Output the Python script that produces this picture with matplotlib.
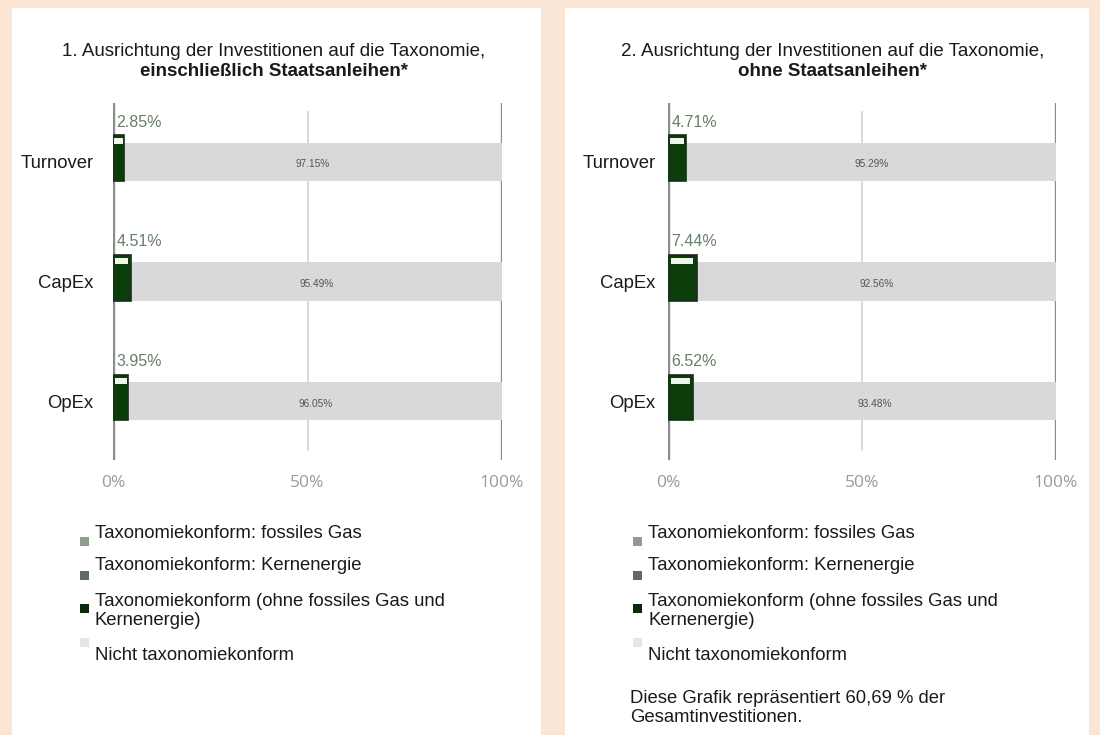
import matplotlib.pyplot as plt
from matplotlib.patches import Rectangle

# DATA
categories = ["Turnover", "CapEx", "OpEx"]
aligned_incl = [2.85, 4.51, 3.95]
not_aligned_incl = [97.15, 95.49, 96.05]
aligned_excl = [4.71, 7.44, 6.52]
not_aligned_excl = [95.29, 92.56, 93.48]
tick_vals = [0, 50, 100]
tick_labels = ["0%", "50%", "100%"]
titles = ["1. Ausrichtung der Investitionen auf die Taxonomie,",
          "2. Ausrichtung der Investitionen auf die Taxonomie,"]
titles_bold = ["einschließlich Staatsanleihen*", "ohne Staatsanleihen*"]
legend_labels = ["Taxonomiekonform: fossiles Gas",
                 "Taxonomiekonform: Kernenergie",
                 "Taxonomiekonform (ohne fossiles Gas und\nKernenergie)",
                 "Nicht taxonomiekonform"]
legend_colors = ["#8f9d8f", "#5e6e5e", "#0b2a0b", "#e6e6e6"]
note = "Diese Grafik repräsentiert 60,69 % der\nGesamtinvestitionen."

W, H = 1100, 735
plt.rcParams['font.family'] = ['Liberation Sans', 'DejaVu Sans']
fig = plt.figure(figsize=(11, 7.35), dpi=100)
fig.patch.set_facecolor("#fbe5d4")


def fx(px):
    return px / W


def fy(py):
    return 1 - py / H


# white panels
for x0, x1 in [(12, 541), (565, 1089)]:
    fig.patches.append(Rectangle((fx(x0), 0), fx(x1 - x0), fy(8), transform=fig.transFigure,
                                 facecolor="white", edgecolor="none", zorder=-5))


def panel(x0, x1, aligned, not_aligned, title, title_bold, cx, ypad):
    ax = fig.add_axes([fx(x0), fy(460), fx(x1 - x0), fy(103) - fy(460)], zorder=2)
    ax.set_facecolor("none")
    pos = list(range(len(categories)))
    ax.set_xlim(0, 100)
    ax.set_ylim(2.49, -0.49)
    for v in tick_vals:
        if v == 50:
            ax.axvline(v, color="#d6d6d6", lw=1.3, zorder=1, ymin=0.028, ymax=0.975)
        else:
            ax.axvline(v, color="#8c8c8c", lw=2.4, zorder=1)
    ax.barh(pos, not_aligned, left=aligned, height=0.32, color="#d9d9d9", zorder=2)
    ax.barh([p - 0.03 for p in pos], aligned, height=0.38, color="#0b3d0b",
            edgecolor="#1c2b1c", lw=1.2, zorder=3)
    for p, a, n in zip(pos, aligned, not_aligned):
        # light cap on top of the green bar
        ax.barh(p - 0.17, a * 0.76, left=a * 0.12, height=0.05, color="#eef6ea", zorder=4)
        ax.text(0.9, p - 0.33, f"{a:.2f}%", color="#667f66", fontsize=11.5,
                ha="left", va="center", zorder=5)
        ax.text(a + n / 2, p + 0.02, f"{n:.2f}%", color="#555555", fontsize=7.3,
                ha="center", va="center", zorder=5)
    ax.set_yticks(pos)
    ax.set_yticklabels(categories, fontsize=13.3, color="#1a1a1a")
    ax.set_xticks(tick_vals)
    ax.set_xticklabels(tick_labels, fontsize=12.5, color="#9a9a9a", family="Open Sans")
    ax.tick_params(axis="y", length=0, pad=ypad)
    ax.tick_params(axis="x", length=0, pad=11)
    for s in ax.spines.values():
        s.set_visible(False)
    fig.text(fx(cx), fy(52), title, ha="center", va="center", fontsize=13.5, color="#1a1a1a")
    fig.text(fx(cx), fy(72), title_bold, ha="center", va="center", fontsize=13.5,
             weight="bold", color="#1a1a1a")
    return ax


panel(113, 502, aligned_incl, not_aligned_incl, titles[0], titles_bold[0], 274, 14)
panel(668, 1056, aligned_excl, not_aligned_excl, titles[1], titles_bold[1], 833, 9)

# legends
text_y = [533, 566, 611, 655]
sq_y = [541, 575, 608, 642]
for sx in [80, 633]:
    for lab, col, ty, sy in zip(legend_labels, legend_colors, text_y, sq_y):
        fig.patches.append(Rectangle((fx(sx), fy(sy + 4.5)), fx(9), fy(0) - fy(9),
                                     transform=fig.transFigure, facecolor=col,
                                     edgecolor="none", zorder=2))
        fig.text(fx(sx + 15), fy(ty), lab, ha="left", va="center", fontsize=13.3,
                 color="#1a1a1a", linespacing=1.2)

fig.text(fx(630), fy(708), note, ha="left", va="center", fontsize=13.3,
         color="#1a1a1a", linespacing=1.2)

fig.savefig("out.png", dpi=100, facecolor=fig.get_facecolor())
